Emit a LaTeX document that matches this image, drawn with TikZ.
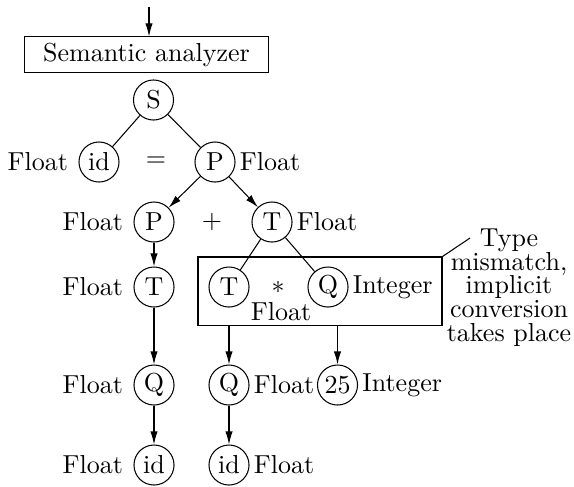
\documentclass[tikz,border=0pt]{standalone}
\usepackage{tikz}
\usetikzlibrary{arrows.meta,positioning,fit}

\begin{document}
\begin{tikzpicture}[x=0.3846pt, y=-0.3846pt, node distance=3.8pt,
  sym/.style={draw, circle, minimum size=15.4pt, inner sep=0pt},
  attr/.style={inner sep=0pt},
  arr/.style={-{Latex[length=5pt,width=2.8pt]}}]
  \useasboundingbox (0,0) rectangle (574,486);
  % phase box
  \node[draw, minimum width=93.5pt, minimum height=13.5pt, inner sep=0pt] (sem) at (146.5,54.5) {Semantic analyzer};
  \coordinate (in) at (149,7);
  \draw[arr] (in) -- (in |- sem.north);
  % tree
  \node[sym] (s) at (153.5,100) {S};
  \node[sym] (idA) at (99,162) {id};
  \node (eq) at (156,162) {$=$};
  \node[sym] (pA) at (215,162) {P};
  \node[sym] (pB) at (154,222) {P};
  \node (plus) at (212,222) {$+$};
  \node[sym] (tA) at (272,222) {T};
  \node[sym] (tB) at (154,287) {T};
  \node[sym] (tC) at (229,287) {T};
  \node (mul) at (278,287) {$*$};
  \node[sym] (qA) at (328,287) {Q};
  \node[sym] (qB) at (154,385) {Q};
  \node[sym] (qC) at (229,385) {Q};
  \node[sym] (num) at (337.5,385) {25};
  \node[sym] (idB) at (154,465) {id};
  \node[sym] (idC) at (229,465) {id};
  % attributes
  \node[attr, left=of idA] (fA) {Float};
  \node[attr, right=1.5pt of pA] (fB) {Float};
  \node[attr, left=of pB] (fC) {Float};
  \node[attr, right=1.5pt of tA] (fD) {Float};
  \node[attr, left=of tB] (fE) {Float};
  \node[attr] (fF) at (281,312) {Float};
  \node[attr, right=1.5pt of qA] (iA) {Integer};
  \node[attr, left=of qB] (fG) {Float};
  \node[attr, right=1.5pt of qC] (fH) {Float};
  \node[attr, right=1.5pt of num] (iB) {Integer};
  \node[attr, left=of idB] (fI) {Float};
  \node[attr, right=1.5pt of idC] (fJ) {Float};
  % conversion box and note
  \node[draw, fit={(198,257) (442,325)}, inner sep=0pt] (grp) {};
  \coordinate (tip) at (470,238);
  \node[attr, align=center, font=\fontsize{10}{9.2}\selectfont, anchor=north] (note) at (509,228) {Type\\mismatch,\\implicit\\conversion\\takes place};
  \draw (grp.north east) -- (tip);
  % edges
  \draw (s) -- (idA);
  \draw (s) -- (pA);
  \draw[arr] (pA) -- (pB);
  \draw[arr] (pA) -- (tA);
  \draw[arr] (pB) -- (tB);
  \draw[arr] (tB) -- (qB);
  \draw[arr] (qB) -- (idB);
  \draw (tA) -- (tC);
  \draw (tA) -- (qA);
  \draw[arr] (grp.south -| qC) -- (qC);
  \draw[arr] (grp.south -| num) -- (num);
  \draw[arr] (qC) -- (idC);
\end{tikzpicture}
\end{document}
